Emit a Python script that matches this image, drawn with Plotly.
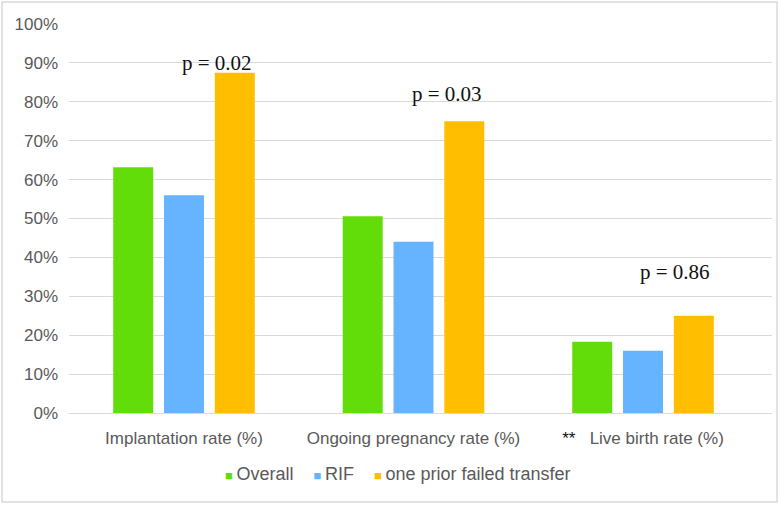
import plotly.graph_objects as go

categories = ["Implantation rate (%)", "Ongoing pregnancy rate (%)",
              "<span style='color:#111111'>**</span>\u00a0\u00a0\u00a0Live birth rate (%)"]
overall = [63.2, 50.6, 18.3]
rif = [56.0, 44.0, 16.0]
one_prior = [87.5, 75.0, 25.0]
series_names = ["Overall", "RIF", "one prior failed transfer"]
colors = ["#63DD0A", "#66B3FF", "#FFBE00"]
p_labels = ["p = 0.02", "p = 0.03", "p = 0.86"]
p_y = [90.0, 81.9, 36.2]
p_shift = [33, 33, 32]
yticks = [0, 10, 20, 30, 40, 50, 60, 70, 80, 90, 100]

fig = go.Figure()
for name, vals, col in zip(series_names, [overall, rif, one_prior], colors):
    fig.add_trace(go.Bar(x=categories, y=vals, name=name, marker_color=col,
                         marker_line_width=0, showlegend=False))

for cat, lab, yy, sh in zip(categories, p_labels, p_y, p_shift):
    fig.add_annotation(x=cat, y=yy, text=lab, showarrow=False, xshift=sh,
                       font=dict(family="Liberation Serif", size=21, color="#111111"))

# legend drawn as a single text line with coloured square glyphs
legend_parts = []
for name, col in zip(series_names, colors):
    legend_parts.append(f"<span style='color:{col};font-size:13px'>\u25A0</span>\u2009{name}")
legend_text = "\u00a0\u00a0\u00a0\u00a0".join(legend_parts)
fig.add_annotation(xref="paper", yref="paper", x=0.4687, y=-0.157, xanchor="center",
                   yanchor="middle", text=legend_text, showarrow=False,
                   font=dict(family="Liberation Sans", size=18, color="#595959"))

fig.add_shape(type="rect", xref="paper", yref="paper",
              x0=-0.0953, x1=1.0071, y0=-0.2288, y1=1.0566,
              line=dict(color="#d9d9d9", width=1.5), fillcolor="rgba(0,0,0,0)", layer="below")

fig.update_layout(
    width=780, height=505,
    margin=dict(l=69, r=8, t=24, b=92, autoexpand=False),
    paper_bgcolor="white", plot_bgcolor="white",
    barmode="group", bargap=0.336, bargroupgap=0.213,
    showlegend=False,
    font=dict(family="Liberation Sans", size=17, color="#595959"),
    xaxis=dict(range=[-0.501, 2.562], showline=True, linecolor="#d9d9d9", linewidth=1,
               ticks="", automargin=False, ticklabelstandoff=10,
               tickfont=dict(size=17, color="#595959")),
    yaxis=dict(range=[0, 100], tickvals=yticks, ticktext=[f"{v}%" for v in yticks],
               showgrid=True, gridcolor="#d9d9d9", gridwidth=1, zeroline=False, automargin=False,
               showline=False, ticks="", ticklabelstandoff=10,
               tickfont=dict(size=17, color="#595959")),
)

fig.write_html("out.html", config={"displayModeBar": False},
               post_script="document.body.style.margin='0';")
